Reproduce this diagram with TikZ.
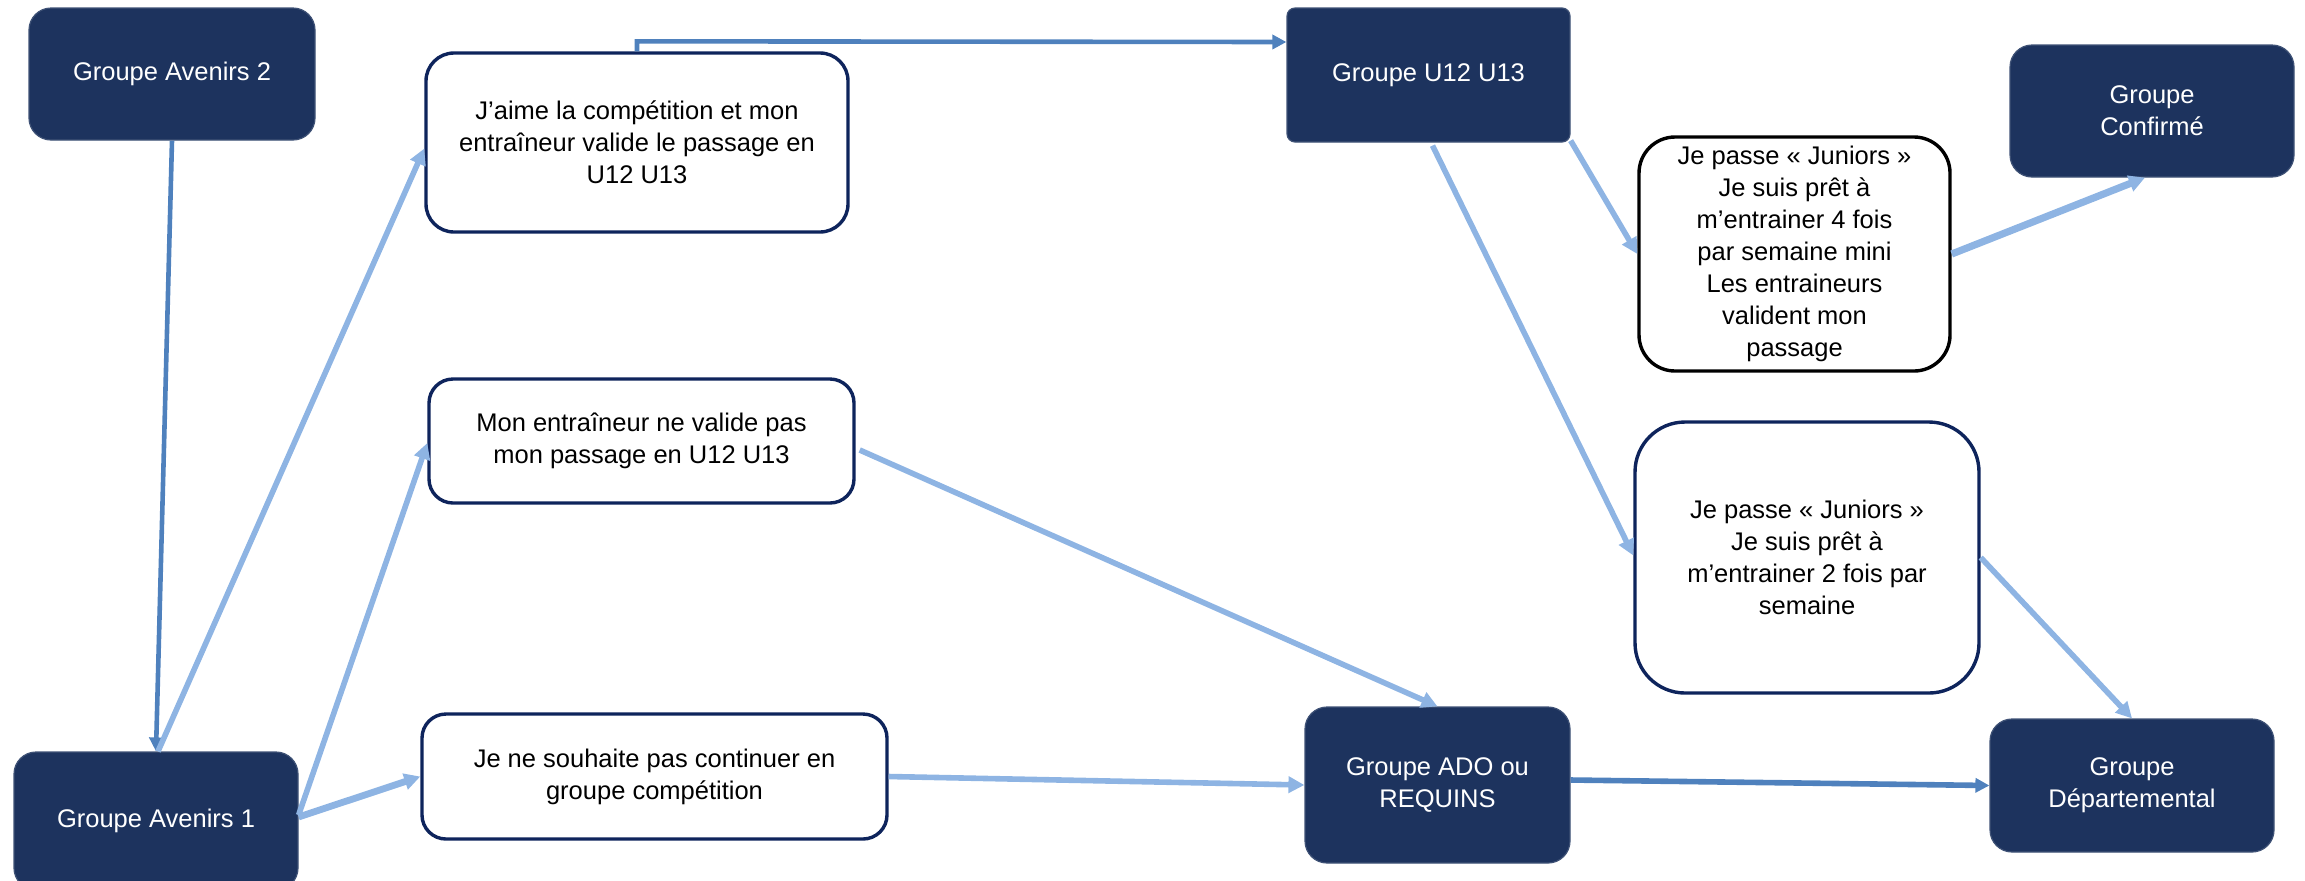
\documentclass[tikz,border=0pt]{standalone}
\usepackage{fontspec}
\setmainfont{Liberation Sans}
\usetikzlibrary{arrows.meta,calc}
\definecolor{navyfill}{RGB}{29,51,94}
\definecolor{navyline}{RGB}{14,36,92}
\definecolor{lightarrow}{RGB}{142,180,227}
\definecolor{darkarrow}{RGB}{79,129,189}
\begin{document}
\begin{tikzpicture}[x=0.5pt,y=-0.5pt,
  every node/.style={font=\fontsize{12.75pt}{16pt}\selectfont, align=center, inner sep=2pt},
  darkbox/.style={rectangle, rounded corners=11pt, fill=navyfill, draw=navyfill!85!white, line width=0.6pt, text=white},
  whitebox/.style={rectangle, rounded corners=14pt, fill=white, draw=navyline, line width=1.7pt, text=black},
  lightarr/.style={draw=lightarrow, line width=2.8pt, -{Triangle[length=8pt,width=8pt]}},
  darkarr/.style={draw=darkarrow, line width=2.3pt, -{Triangle[length=7pt,width=7pt]}}]
\useasboundingbox (0,0) rectangle (2305,880);
% nodes
\node[darkbox, minimum width=143pt, minimum height=66pt] (av2) at (172,74) {Groupe Avenirs 2};
\node[whitebox, minimum width=211pt, minimum height=89.5pt] (aime) at (637,142.5) {J’aime la compétition et mon\\entraîneur valide le passage en\\U12 U13};
\node[darkbox, rounded corners=4pt, minimum width=141.5pt, minimum height=67pt] (u12) at (1428.5,75) {Groupe U12 U13};
\node[darkbox, minimum width=142pt, minimum height=66pt] (conf) at (2152,111) {Groupe\\Confirmé};
\node[whitebox, draw=black, rounded corners=18pt, minimum width=155.5pt, minimum height=117pt] (j4) at (1794.5,254) {Je passe « Juniors »\\Je suis prêt à\\m’entrainer 4 fois\\par semaine mini\\Les entraineurs\\valident mon\\passage};
\node[whitebox, rounded corners=25pt, minimum width=172pt, minimum height=135.5pt] (j2) at (1807,557.5) {Je passe « Juniors »\\Je suis prêt à\\m’entrainer 2 fois par\\semaine};
\node[darkbox, minimum width=132.5pt, minimum height=78pt] (ado) at (1437.5,785) {Groupe ADO ou\\REQUINS};
\node[darkbox, minimum width=142pt, minimum height=66.5pt] (dep) at (2132,785.5) {Groupe\\Départemental};
\node[whitebox, rounded corners=12pt, minimum width=212.5pt, minimum height=62pt] (mon) at (641.5,441) {Mon entraîneur ne valide pas\\mon passage en U12 U13};
\node[whitebox, rounded corners=12pt, minimum width=232.5pt, minimum height=62.5pt] (nes) at (654.5,776.5) {Je ne souhaite pas continuer en\\groupe compétition};
\node[darkbox, minimum width=142pt, minimum height=69pt] (av1) at (156,821) {Groupe Avenirs 1};
% connectors
\draw[darkarr] (av2.south) -- (av1.north);
\draw[lightarr] ($(av1.north)+(2,0)$) -- ($(aime.west)+(0,6)$);
\draw[lightarr] ($(av1.east)+(0,-6)$) -- ($(mon.west)+(0,2)$);
\draw[lightarr, line width=3.4pt] ($(av1.east)+(0,-4)$) -- (nes.west);
\draw[darkarr] (aime.north) -- ++(0,-10) -- ($(u12.west)+(0,-33)$);
\draw[lightarr] ($(mon.east)+(4,9)$) -- (ado.north);
\draw[lightarr] (nes.east) -- (ado.west);
\draw[darkarr, line width=2.8pt] ($(ado.east)+(0,-5)$) -- (dep.west);
\draw[lightarr] ($(u12.south east)+(0,-2)$) -- (j4.west);
\draw[lightarr] ($(u12.south)+(4,3)$) -- ($(j2.west)+(0,-2)$);
\draw[lightarr, line width=3.6pt] (j4.east) -- ($(conf.south)+(-7,0)$);
\draw[lightarr] (j2.east) -- (dep.north);
\end{tikzpicture}
\end{document}
